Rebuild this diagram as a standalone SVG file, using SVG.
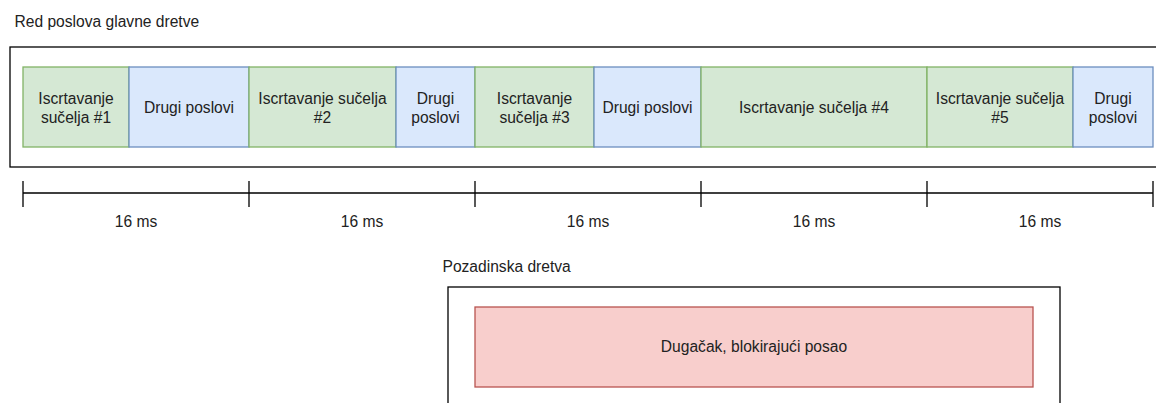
<svg xmlns="http://www.w3.org/2000/svg" width="1156" height="403" viewBox="0 0 1156 403">
<style>
text{font-family:"Liberation Sans",Arial,sans-serif;font-size:15.6px;fill:#222}
.c{text-anchor:middle}
.g{fill:#d5e8d4;stroke:#82b366;stroke-width:1.3}
.b{fill:#dae8fc;stroke:#6c8ebf;stroke-width:1.3}
.r{fill:#f8cecc;stroke:#b85450;stroke-width:1.3}
.frame{fill:#fff;stroke:#000;stroke-width:1.3}
.ln{stroke:#000;stroke-width:1.3;fill:none}
</style>
<rect width="1156" height="403" fill="#fff"/>
<g id="main-thread">
<text x="14.5" y="27">Red poslova glavne dretve</text>
<rect class="frame" x="10" y="47" width="1160" height="120"/>
</g>
<g id="n1"><rect class="g" x="23" y="67" width="106" height="80"/><text class="c" x="76" y="104">Iscrtavanje</text><text class="c" x="76" y="122.5">sučelja #1</text></g>
<g id="n2"><rect class="b" x="129" y="67" width="120" height="80"/><text class="c" x="189" y="113">Drugi poslovi</text></g>
<g id="n3"><rect class="g" x="249" y="67" width="147" height="80"/><text class="c" x="322.5" y="104">Iscrtavanje sučelja</text><text class="c" x="322.5" y="122.5">#2</text></g>
<g id="n4"><rect class="b" x="396" y="67" width="79" height="80"/><text class="c" x="435.5" y="104">Drugi</text><text class="c" x="435.5" y="122.5">poslovi</text></g>
<g id="n5"><rect class="g" x="475" y="67" width="119" height="80"/><text class="c" x="534.5" y="104">Iscrtavanje</text><text class="c" x="534.5" y="122.5">sučelja #3</text></g>
<g id="n6"><rect class="b" x="594" y="67" width="107" height="80"/><text class="c" x="647.5" y="113">Drugi poslovi</text></g>
<g id="n7"><rect class="g" x="701" y="67" width="226" height="80"/><text class="c" x="814" y="113">Iscrtavanje sučelja #4</text></g>
<g id="n8"><rect class="g" x="927" y="67" width="146" height="80"/><text class="c" x="1000" y="104">Iscrtavanje sučelja</text><text class="c" x="1000" y="122.5">#5</text></g>
<g id="n9"><rect class="b" x="1073" y="67" width="80" height="80"/><text class="c" x="1113" y="104">Drugi</text><text class="c" x="1113" y="122.5">poslovi</text></g>
<g id="connectors">
<path class="ln" d="M23 193H1153M23 181V207M249 181V207M475 181V207M701 181V207M927 181V207M1153 181V207"/>
</g>
<g id="timeline-labels">
<text class="c" x="136" y="227">16 ms</text>
<text class="c" x="362" y="227">16 ms</text>
<text class="c" x="588" y="227">16 ms</text>
<text class="c" x="814" y="227">16 ms</text>
<text class="c" x="1040" y="227">16 ms</text>
</g>
<g id="background-thread">
<text x="442.5" y="272">Pozadinska dretva</text>
<rect class="frame" x="448" y="287" width="612" height="140"/>
</g>
<g id="long-job"><rect class="r" x="475" y="307" width="558" height="80"/><text class="c" x="754" y="352">Dugačak, blokirajući posao</text></g>
</svg>
